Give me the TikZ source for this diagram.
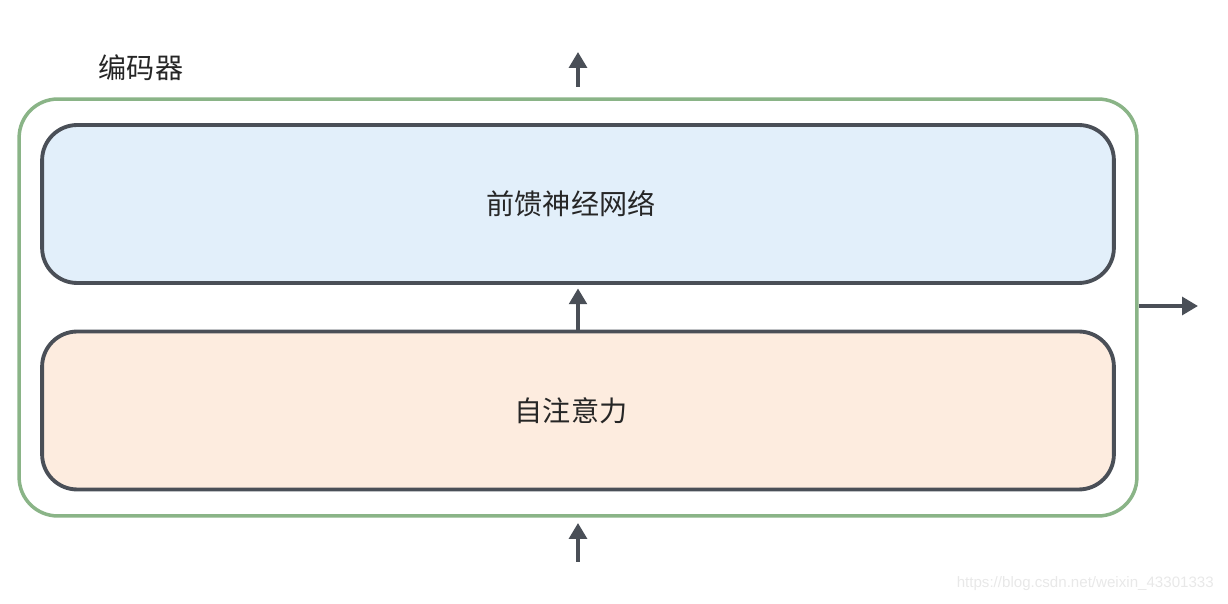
\documentclass[tikz,border=0pt]{standalone}
\usepackage{fontspec}
\setmainfont{Noto Sans CJK SC}
\newfontfamily\wmfont{Liberation Sans}
\usepackage{tikz}
\usetikzlibrary{positioning,arrows.meta}
\definecolor{encgreen}{HTML}{8AB487}
\definecolor{boxgray}{HTML}{4A4F57}
\definecolor{ffnblue}{HTML}{E2EFFA}
\definecolor{attnorange}{HTML}{FDECDF}
\tikzset{
  layer/.style={draw=boxgray,line width=2.2pt,rounded corners=20pt,minimum width=21.44cm,minimum height=3.16cm,font=\fontsize{16}{18}\selectfont,text=black!85},
  flow/.style={draw=boxgray,line width=2.2pt,-{Triangle[length=9pt,width=10pt]}}
}

\begin{document}
\begin{tikzpicture}[x=0.02cm,y=-0.02cm]
\useasboundingbox (0,0) rectangle (1228,604);

\node[draw=encgreen,line width=2pt,rounded corners=22pt,minimum width=22.36cm,minimum height=8.34cm] (enc) at (578,307.5) {};
\node[font=\fontsize{16}{18}\selectfont,text=black!85] (enclbl) at (141,68) {编码器};

\node[layer,fill=ffnblue] (ffn) at (578,204) {\kern-0.28cm前馈神经网络};
\node[layer,fill=attnorange] (attn) at (578,410.5) {\kern-0.28cm自注意力};

\coordinate (top) at (578,52);
\coordinate (bot) at (578,562);
\coordinate (out) at (1198,306);

\draw[flow,shorten <=6pt] (enc.north) -- (top);
\draw[flow,shorten >=2pt] (attn.north) -- (ffn.south);
\draw[flow,shorten >=3pt] (bot) -- (enc.south);
\draw[flow] (enc.east |- out) -- (out);

% watermark
\node[font=\wmfont\fontsize{8.6}{10}\selectfont,text=black!9,anchor=east] (wm) at (1220,584) {https://blog.csdn.net/weixin\_43301333};
\end{tikzpicture}
\end{document}
